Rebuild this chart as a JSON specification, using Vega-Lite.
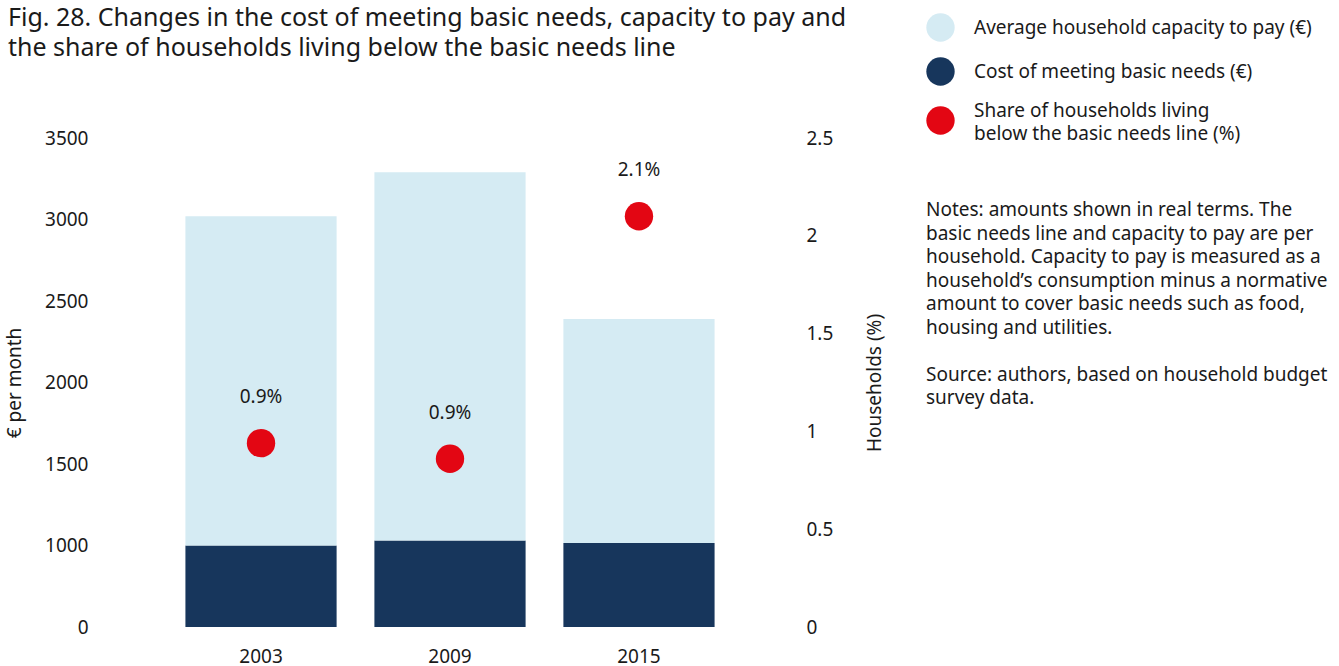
{
  "$schema": "https://vega.github.io/schema/vega-lite/v6.json",
  "width": 700,
  "height": 489,
  "autosize": {"type": "none"},
  "padding": {"left": 100, "top": 138, "right": 539, "bottom": 39},
  "background": "white",
  "config": {
    "font": "Noto Sans",
    "view": {"stroke": null},
    "axis": {
      "grid": false, "ticks": false, "domain": false,
      "labelFontSize": 19, "labelColor": "#1a1a1a", "labelFont": "Noto Sans",
      "titleFontSize": 19, "titleFontWeight": "normal", "titleColor": "#1a1a1a", "titleFont": "Noto Sans"
    }
  },
  "title": {
    "text": ["Fig. 28. Changes in the cost of meeting basic needs, capacity to pay and", "the share of households living below the basic needs line"],
    "anchor": "start",
    "frame": "group",
    "dx": -92,
    "fontSize": 25,
    "fontWeight": "normal",
    "font": "Noto Sans",
    "color": "#1a1a1a",
    "lineHeight": 30,
    "offset": -48
  },
  "datasets": {
    "bars": [
      {"year": "2003", "series": "Cost of meeting basic needs (€)", "value": 1000},
      {"year": "2003", "series": "Average household capacity to pay (€)", "value": 2020},
      {"year": "2009", "series": "Cost of meeting basic needs (€)", "value": 1030},
      {"year": "2009", "series": "Average household capacity to pay (€)", "value": 2260},
      {"year": "2015", "series": "Cost of meeting basic needs (€)", "value": 1015},
      {"year": "2015", "series": "Average household capacity to pay (€)", "value": 1375}
    ],
    "share": [
      {"year": "2003", "series": "Share of households living below the basic needs line (%)", "share": 0.94, "label": "0.9%"},
      {"year": "2009", "series": "Share of households living below the basic needs line (%)", "share": 0.86, "label": "0.9%"},
      {"year": "2015", "series": "Share of households living below the basic needs line (%)", "share": 2.1, "label": "2.1%"}
    ]
  },
  "encoding": {
    "x": {
      "field": "year", "type": "nominal",
      "scale": {"paddingInner": 0.2, "paddingOuter": 0.452},
      "axis": {"title": null, "labelAngle": 0, "labelPadding": 20}
    }
  },
  "layer": [
    {
      "data": {"name": "bars"},
      "mark": {"type": "bar"},
      "encoding": {
        "y": {
          "field": "value", "type": "quantitative", "stack": "zero",
          "scale": {"domain": [0, 1000, 3500], "range": [489, 407.5, 0], "nice": false},
          "axis": {"values": [0, 1000, 1500, 2000, 2500, 3000, 3500], "format": "d", "title": "€ per month", "labelPadding": 12, "titlePadding": 20}
        },
        "color": {
          "field": "series", "type": "nominal",
          "scale": {
            "domain": ["Average household capacity to pay (€)", "Cost of meeting basic needs (€)", "Share of households living below the basic needs line (%)"],
            "range": ["#d5ebf3", "#17365c", "#e30613"]
          },
          "legend": {
            "orient": "none", "legendX": 826, "legendY": -125, "padding": 0,
            "title": ["Notes: amounts shown in real terms. The", "basic needs line and capacity to pay are per", "household. Capacity to pay is measured as a", "household’s consumption minus a normative", "amount to cover basic needs such as food,", "housing and utilities.", "\u200b", "Source: authors, based on household budget", "survey data."],
            "titleOrient": "bottom", "titleAnchor": "start", "titleFontSize": 19, "titleFontWeight": "normal",
            "titleLineHeight": 23.5, "titlePadding": 57, "titleColor": "#1a1a1a", "titleLimit": 600, "titleFont": "Noto Sans",
            "symbolType": "circle", "symbolSize": 804, "symbolOpacity": 1, "symbolStrokeWidth": 0,
            "labelFontSize": 19, "labelOffset": 19, "labelLimit": 600, "rowPadding": 15, "labelColor": "#1a1a1a", "labelFont": "Noto Sans",
            "labelExpr": "datum.label == 'Share of households living below the basic needs line (%)' ? ['Share of households living', 'below the basic needs line (%)'] : datum.label",
            "encode": {
              "labels": {
                "update": {
                  "lineHeight": {"value": 23},
                  "dy": {"signal": "datum.value == 'Share of households living below the basic needs line (%)' ? -10 : 0"}
                }
              }
            }
          }
        },
        "order": {"field": "series", "type": "nominal", "sort": "descending"}
      }
    },
    {
      "data": {"name": "share"},
      "encoding": {
        "y": {
          "field": "share", "type": "quantitative",
          "scale": {"domain": [0, 2.5], "nice": false},
          "axis": {"orient": "right", "values": [0, 0.5, 1, 1.5, 2, 2.5], "format": "~g", "title": "Households (%)", "titleAngle": 270, "labelPadding": 6, "titlePadding": 52}
        }
      },
      "layer": [
        {
          "mark": {"type": "point", "filled": true, "opacity": 1, "size": 804, "shape": "circle"},
          "encoding": {
            "color": {
              "field": "series", "type": "nominal",
              "scale": {
                "domain": ["Average household capacity to pay (€)", "Cost of meeting basic needs (€)", "Share of households living below the basic needs line (%)"],
                "range": ["#d5ebf3", "#17365c", "#e30613"]
              }
            }
          }
        },
        {
          "mark": {"type": "text", "dy": -46, "fontSize": 19, "color": "#1a1a1a", "font": "Noto Sans"},
          "encoding": {"text": {"field": "label"}}
        }
      ]
    }
  ],
  "resolve": {"scale": {"y": "independent"}}
}
